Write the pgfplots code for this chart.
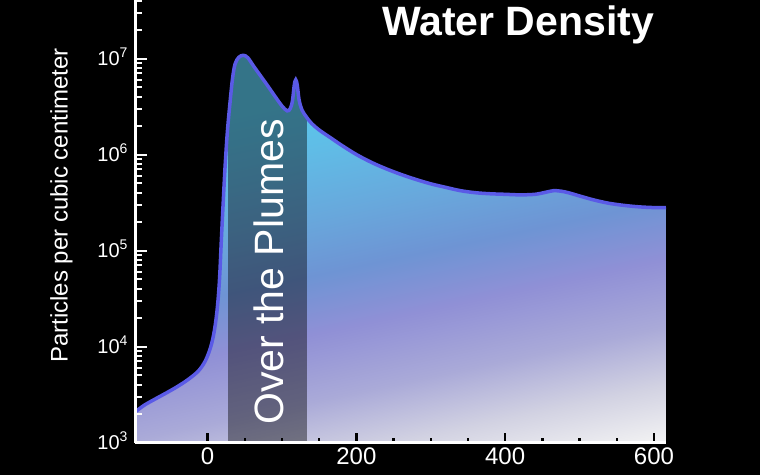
\documentclass[border=0pt]{standalone}
\usepackage{fontspec}
\setmainfont{Liberation Sans}
\usepackage{pgfplots}
\usepackage{pgfplotstable}
\pgfplotsset{compat=1.18}
\definecolor{outl}{HTML}{5A5AE6}
\definecolor{tickw}{HTML}{FAFAFA}
\definecolor{g0}{HTML}{F4F4F4}
\definecolor{g1}{HTML}{D2D2E2}
\definecolor{g2}{HTML}{AAAAD8}
\definecolor{g3}{HTML}{9090D6}
\definecolor{g4}{HTML}{6E94D4}
\definecolor{g5}{HTML}{68A8DC}
\definecolor{g6}{HTML}{60BCE6}
\definecolor{g7}{HTML}{5AC8EC}
\pgfdeclareverticalshading{watergrad}{100bp}{color(0bp)=(g0); color(20bp)=(g0); color(27bp)=(g1); color(34bp)=(g2); color(42bp)=(g3); color(49bp)=(g4); color(56bp)=(g5); color(64bp)=(g6); color(70bp)=(g7); color(100bp)=(g7)}
\newcommand{\tp}[1]{10\raisebox{7.7pt}{\fontsize{14}{14}\selectfont #1}}
\pgfplotstableread{
x y
-97.6 2070
-85 2450
-70 2850
-55 3300
-40 3850
-25 4600
-12 5600
-3 7100
4 9800
9 14500
13 25000
16 50000
18.5 130000
21 320000
23.5 750000
26.5 1700000
30 3400000
33.5 6200000
37 8800000
42 10300000
48 10800000
54 10200000
62 8300000
70 6800000
80 5300000
90 4100000
100 3200000
107 2850000
111 3000000
114 3600000
116.5 5300000
118.5 6000000
120.5 5300000
123 3700000
127 2900000
133 2450000
140 2100000
150 1800000
165 1500000
180 1250000
200 1000000
220 830000
240 710000
260 620000
280 550000
300 495000
320 455000
340 420000
360 400000
380 390000
400 385000
420 380000
440 385000
455 405000
465 420000
475 415000
485 400000
500 370000
520 335000
540 310000
560 295000
580 285000
600 280000
616.2 280000
}\densitydata
\begin{document}
\begin{tikzpicture}
\fill[black] (0,0) rectangle (760pt,475pt);
\useasboundingbox (0,0) rectangle (760pt,475pt);
\begin{axis}[
  at={(135pt,32.5pt)}, anchor=south west,
  scale only axis, width=531pt, height=442.5pt,
  ymode=log, log origin y=infty,
  xmin=-97.6, xmax=616.2, ymin=1000, ymax=40700000,
  axis x line=bottom, axis y line=left,
  axis line style={-, white, line width=3pt},
  axis on top=true,
  tick align=inside,
  major tick length=11.5pt, minor tick length=6.5pt,
  xtick style={draw=black, line width=2.5pt},
  ytick style={draw=tickw, line width=2pt},
  every major x tick/.append style={/pgfplots/major tick length=9.5pt},
  every minor x tick/.append style={/pgfplots/minor tick length=4.5pt},
  xtick={0,200,400,600},
  xticklabels={0,200,400,600},
  minor xtick={50,100,150,250,300,350,450,500,550},
  ytick={1000,10000,100000,1000000,10000000},
  yticklabels={\tp{3},\tp{4},\tp{5},\tp{6},\tp{7}},
  minor ytick={2000,3000,4000,5000,6000,7000,8000,9000,20000,30000,40000,50000,60000,70000,80000,90000,200000,300000,400000,500000,600000,700000,800000,900000,2000000,3000000,4000000,5000000,6000000,7000000,8000000,9000000,20000000,30000000,40000000},
  xticklabel style={white, font=\fontsize{24}{28}\selectfont, yshift=-2pt},
  yticklabel style={white, font=\fontsize{20}{24}\selectfont, xshift=-4pt, yshift=1.5pt},
]
\addplot[draw=none, shading=watergrad, shading angle=12, smooth, tension=0.55] table {\densitydata} \closedcycle;
\addplot[draw=none, fill=black, fill opacity=0.42] coordinates {(27.6,100000000) (134,100000000)} \closedcycle;
\addplot[draw=outl, line width=3.5pt, smooth, tension=0.55] table {\densitydata};
\end{axis}
\node[white, anchor=base, font=\fontsize{41}{45}\selectfont\bfseries] at (518pt,439.5pt) {Water Density};
\node[white, anchor=base, rotate=90, font=\fontsize{24}{28}\selectfont] at (67.7pt,269.5pt) {Particles per cubic centimeter};
\node[white, anchor=base, rotate=90, font=\fontsize{41}{45}\selectfont] at (283pt,203pt) {Over the Plumes};
\end{tikzpicture}
\end{document}
